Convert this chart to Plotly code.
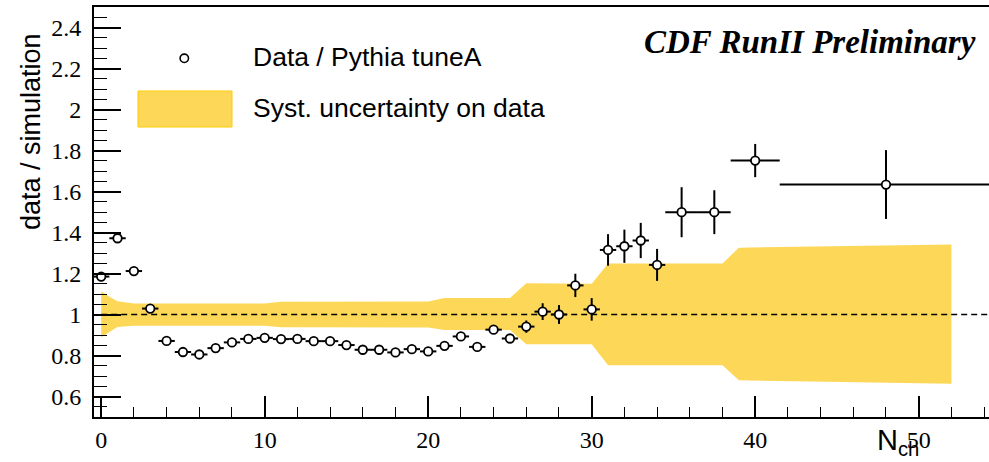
import plotly.graph_objects as go

# ---------------- data ----------------
n_ch = list(range(0, 35)) + [35.5, 37.5, 40, 48]
ratio = [1.185, 1.372, 1.212, 1.029, 0.871, 0.817, 0.805, 0.836, 0.864, 0.881,
         0.886, 0.880, 0.881, 0.870, 0.870, 0.851, 0.828, 0.828, 0.815, 0.831,
         0.820, 0.847, 0.893, 0.842, 0.926, 0.883, 0.941, 1.014, 1.000, 1.142,
         1.025, 1.315, 1.333, 1.361, 1.242, 1.499, 1.499, 1.751, 1.634]
err_y = [0.010, 0.010, 0.010, 0.010, 0.008, 0.008, 0.008, 0.008, 0.008, 0.008,
         0.008, 0.008, 0.008, 0.009, 0.009, 0.009, 0.010, 0.010, 0.010, 0.011,
         0.012, 0.013, 0.015, 0.016, 0.020, 0.022, 0.030, 0.041, 0.046, 0.057,
         0.055, 0.077, 0.081, 0.086, 0.078, 0.122, 0.107, 0.081, 0.168]
err_x = [0.5] * 35 + [1.0, 1.0, 1.5, 6.5]

band_n = [0, 0.5, 1, 2, 10, 11, 20, 21, 25, 26, 30, 31, 38, 39, 52]
band_hi = [1.114, 1.086, 1.065, 1.054, 1.054, 1.062, 1.064, 1.080, 1.080, 1.152,
           1.150, 1.249, 1.249, 1.326, 1.342]
band_lo = [0.888, 0.915, 0.939, 0.945, 0.945, 0.938, 0.936, 0.925, 0.925, 0.855,
           0.855, 0.752, 0.752, 0.679, 0.662]

ref_x = [0, 55]
ref_y = [1, 1]

x_range = [-0.44, 54.3]
y_range = [0.5, 2.5]

BAND_COLOR = "rgb(253,216,88)"
BAND_EDGE = "rgb(255,204,0)"

W, H = 989, 462
ML, MR, MT, MB = 94, 0, 7, 45
PW, PH = W - ML - MR, H - MT - MB


def px(xp):
    return (xp - ML) / PW


def py(yp):
    return (H - MB - yp) / PH


fig = go.Figure()

# systematic band
fig.add_trace(go.Scatter(
    x=band_n + band_n[::-1],
    y=band_hi + band_lo[::-1],
    fill="toself", fillcolor=BAND_COLOR,
    line=dict(width=0), mode="lines", hoverinfo="skip", showlegend=False))

# reference dashed line
fig.add_trace(go.Scatter(
    x=ref_x, y=ref_y, mode="lines",
    line=dict(color="black", width=1.5, dash="6px,4px"),
    hoverinfo="skip", showlegend=False))

# data points
fig.add_trace(go.Scatter(
    x=n_ch, y=ratio, mode="markers",
    marker=dict(symbol="circle", size=8.5, color="white",
                line=dict(color="black", width=1.8)),
    error_x=dict(type="data", array=err_x, color="black", thickness=2, width=0),
    error_y=dict(type="data", array=err_y, color="black", thickness=2, width=0),
    showlegend=False))

axis_font = dict(family="Liberation Serif, Times New Roman, serif", size=24, color="black")

fig.update_xaxes(
    range=x_range, showgrid=False, zeroline=False,
    showline=True, linecolor="black", linewidth=2, mirror=True,
    ticks="inside", ticklen=21, tickwidth=1.5, tickcolor="black",
    tick0=0, dtick=10, tickfont=axis_font,
    minor=dict(ticks="inside", ticklen=10, tickwidth=1.2, tickcolor="black", dtick=2))

fig.update_yaxes(
    range=y_range, showgrid=False, zeroline=False,
    showline=True, linecolor="black", linewidth=2,
    ticks="inside", ticklen=27, tickwidth=1.8, tickcolor="black",
    tick0=0, dtick=0.2, tickfont=axis_font, ticklabelstandoff=6,
    minor=dict(ticks="inside", ticklen=13, tickwidth=1.2, tickcolor="black", dtick=0.05))

sans = "Liberation Sans, Arial, Helvetica, sans-serif"

annotations = [
    dict(text="data / simulation", textangle=-90, xref="paper", yref="paper",
         x=px(31), y=py(132), xanchor="center", yanchor="middle", showarrow=False,
         font=dict(family=sans, size=27, color="black")),
    dict(text="N<sub>ch</sub>", xref="paper", yref="paper",
         x=px(875), y=py(422), xanchor="left", yanchor="top", showarrow=False,
         font=dict(family=sans, size=29, color="black")),
    dict(text="CDF RunII Preliminary", xref="paper", yref="paper",
         x=px(978), y=py(42), xanchor="right", yanchor="middle", showarrow=False,
         font=dict(family="Liberation Serif, Times New Roman, serif", size=33,
                   color="black", weight="bold", style="italic")),
    dict(text="Data / Pythia tuneA", xref="paper", yref="paper",
         x=px(251), y=py(57), xanchor="left", yanchor="middle", showarrow=False,
         font=dict(family=sans, size=26.5, color="black")),
    dict(text="Syst. uncertainty on data", xref="paper", yref="paper",
         x=px(251), y=py(108), xanchor="left", yanchor="middle", showarrow=False,
         font=dict(family=sans, size=26.5, color="black")),
]

shapes = [
    dict(type="rect", xref="paper", yref="paper",
         x0=px(138), x1=px(232), y0=py(127), y1=py(91),
         fillcolor=BAND_COLOR, line=dict(color=BAND_EDGE, width=1)),
    dict(type="circle", xref="paper", yref="paper",
         xsizemode="pixel", ysizemode="pixel",
         xanchor=px(184.3), yanchor=py(58.3),
         x0=-4.2, x1=4.2, y0=-4.2, y1=4.2,
         fillcolor="white", line=dict(color="black", width=1.6)),
]

fig.update_layout(
    width=W, height=H,
    margin=dict(l=ML, r=MR, t=MT, b=MB, pad=0),
    plot_bgcolor="white", paper_bgcolor="white",
    showlegend=False,
    annotations=annotations, shapes=shapes)

fig.write_html("out.html")
